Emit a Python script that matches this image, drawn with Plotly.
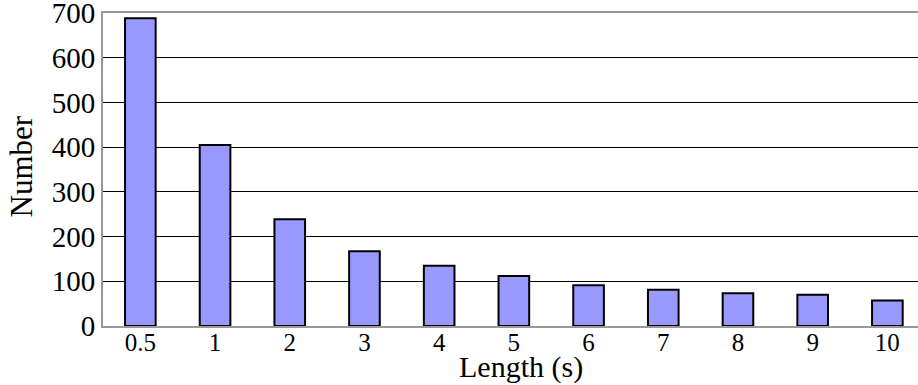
import plotly.graph_objects as go

categories = ["0.5", "1", "2", "3", "4", "5", "6", "7", "8", "9", "10"]
counts = [688, 405, 239, 167, 135, 112, 91, 81, 73, 70, 57]
y_ticks = [0, 100, 200, 300, 400, 500, 600, 700]

fig = go.Figure(go.Bar(
    x=categories, y=counts, width=0.41,
    marker=dict(color="#9999ff", line=dict(color="black", width=2)),
))

font = "Liberation Serif, Times New Roman, serif"
fig.update_layout(
    width=918, height=385,
    margin=dict(l=103, r=0, t=13, b=59, autoexpand=False),
    paper_bgcolor="white", plot_bgcolor="white",
    font=dict(family=font, size=27, color="black"),
    showlegend=False,
    xaxis=dict(
        type="category", range=[-0.5, 10.41], automargin=False,
        showline=True, linecolor="#999999", linewidth=2, mirror=True,
        showgrid=False, ticks="", tickfont=dict(size=25),
        ticklabeloverflow="allow", ticklabelstandoff=-7,
    ),
    yaxis=dict(
        range=[0, 700], tickvals=y_ticks, automargin=False,
        showline=True, linecolor="#999999", linewidth=2,
        showgrid=True, gridcolor="black", gridwidth=1, zeroline=False,
        ticks="", tickfont=dict(size=29), ticklabeloverflow="allow",
    ),
    annotations=[
        dict(text="Length (s)", xref="paper", yref="paper", x=0.513, y=-0.13,
             xanchor="center", yanchor="middle", showarrow=False,
             font=dict(size=30)),
        dict(text="Number", xref="paper", yref="paper", x=-0.1, y=0.508,
             xanchor="center", yanchor="middle", showarrow=False, textangle=-90,
             font=dict(size=31)),
    ],
)

fig.write_html("out.html", config={"displayModeBar": False},
               post_script="document.body.style.margin='0';")
